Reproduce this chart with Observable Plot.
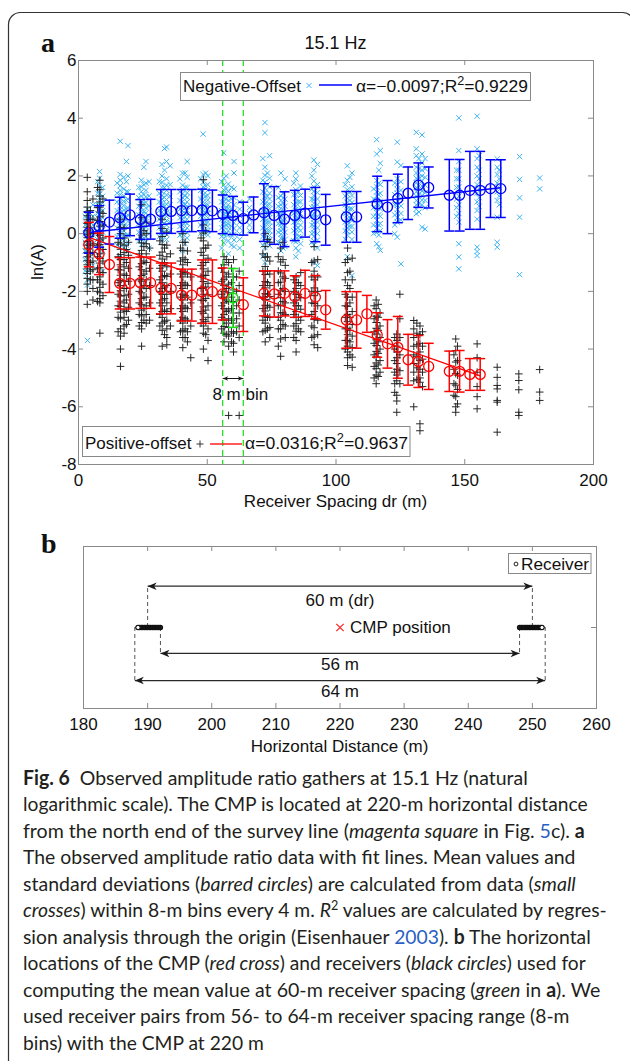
<!DOCTYPE html>
<html>
<head>
<meta charset="utf-8">
<script src="https://cdn.jsdelivr.net/npm/d3@7"></script>
<script src="https://cdn.jsdelivr.net/npm/@observablehq/plot@0.6"></script>
<style>
html, body { margin: 0; padding: 0; background: #fff; }
#root { position: relative; width: 630px; height: 1061px; overflow: hidden; background: #fff; }
#root > svg { position: absolute; left: 0; }
</style>
</head>
<body>
<div id="root"></div>
<script>
// ================= DATA =================
// Panel a: 8-m bins every 4 m (bin centres, m)
const binX = [4,8,12,16,20,24,28,32,36,40,44,48,52,56,60,64,68,72,76,80,84,88,92,96,100,104,108,112,116,120,124,128,132,136,140,144,148,152,156,160,164];
// Negative-offset bin means / std (blue)
const negMean = [0.03,0.25,0.40,0.55,0.65,0.49,0.50,0.77,0.77,0.80,0.80,0.82,0.79,0.67,0.63,0.52,0.65,0.73,0.63,0.50,0.63,0.71,0.66,0.48,null,0.58,0.58,null,1.03,0.92,1.22,1.40,1.68,1.60,null,1.33,1.33,1.50,1.50,1.56,1.56];
const negStd  = [0.71,0.72,0.76,0.71,0.72,0.69,0.69,0.76,0.76,0.73,0.73,0.72,0.72,0.67,0.66,0.57,0.62,1.00,1.00,0.95,0.87,0.83,0.94,0.88,null,0.88,0.88,null,0.96,0.92,0.84,0.91,0.77,0.71,null,1.24,1.24,1.35,1.35,1.00,1.00];
// Positive-offset bin means / std (red; 60 m bin highlighted green)
const posMean = [-0.38,-0.70,-1.07,-1.72,-1.72,-1.70,-1.70,-1.90,-1.90,-2.13,-2.13,-2.01,-2.01,-2.09,-2.23,-2.46,null,-2.07,-2.09,-2.07,-2.18,-2.07,-2.20,-2.64,null,-2.99,-2.99,-2.78,-3.51,-3.82,-3.94,-4.37,-4.43,-4.60,null,-4.77,-4.77,-4.88,-4.88,null,null];
const posStd  = [0.77,0.72,0.97,0.89,0.89,0.89,0.89,0.88,0.88,0.90,0.90,1.10,1.10,0.90,1.02,0.93,null,0.78,0.80,0.78,0.72,0.80,0.75,0.67,null,0.98,0.98,0.64,0.77,0.84,1.07,0.88,0.90,0.80,null,0.70,0.72,0.55,0.55,null,null];
const highlightBin = 60;
const binWindow = [56, 64];

// Fit lines (regression through origin)
const negFitX = [4, 164];
const negFitY = [0.04, 1.59];
const posFitX = [4, 156];
const posFitY = [-0.13, -4.93];

// Raw data (small crosses): negative-offset (cyan x), grouped by receiver-spacing column
const negColX = [3.5,4.6,8.2,9.4,16.2,17.6,19.2,24.4,26.2,27.4,32.4,34.2,35.6,40.4,42.2,48.4,50.2,56.4,58.2,60.4,62.6,66.4,72.4,74.2,78.6,80.2,84.4,86.2,91.4,92.8,104.4,106.2,115.8,117.2,123.8,125.2,131.2,133.4,134.6,147.7,154.8,162.6,171.3,179.1,
  2.6,5.6,7.4,15.0,18.6,23.4,25.4,31.4,33.4,39.4,41.4,47.4,49.4,55.6,57.4,59.4,71.6,73.4,77.6,79.4,83.6,85.4,90.6,103.6,105.4,114.6,116.6,122.8,132.2,146.8,155.6,163.4];
const negColY = [
  [0.85,0.62,0.48,0.35,0.22,0.1,0.02,-0.08,-0.2,-0.31,-0.45,-0.58,-0.72,-0.9,-1.1,-1.35,-1.6,-1.78,-3.7],
  [0.7,0.4,0.15,-0.05,-0.25,-0.5,-0.8,-1.2],
  [2.15,1.92,1.68,1.5,1.38,1.25,1.12,1.0,0.88,0.78,0.66,0.55,0.43,0.3,0.18,0.05,-0.1,-0.28,-0.5,-0.75],
  [1.6,1.3,1.05,0.8,0.55,0.3,0.05,-0.25,-0.6,-1.3],
  [3.2,2.05,1.85,1.66,1.5,1.36,1.22,1.08,0.95,0.84,0.72,0.6,0.5,0.38,0.26,0.14,0.02,-0.12,-0.28,-0.48,-0.8],
  [1.95,1.55,1.3,1.12,0.98,0.82,0.68,0.55,0.4,0.25,0.1,-0.06,-0.25,-0.5],
  [3.05,2.0,1.45,1.2,0.9,0.65,0.42,0.2,-0.05,-0.3,-0.6],
  [1.85,1.62,1.45,1.3,1.16,1.02,0.9,0.78,0.66,0.55,0.44,0.32,0.2,0.08,-0.05,-0.2,-0.38],
  [2.5,1.75,1.5,1.28,1.08,0.9,0.72,0.56,0.4,0.24,0.08,-0.1,-0.3],
  [1.8,1.3,0.95,0.6,0.3,0.0,-0.5],
  [2.4,2.0,1.78,1.6,1.45,1.32,1.2,1.08,0.97,0.86,0.75,0.64,0.53,0.42,0.3,0.18,0.05,-0.1,-0.25],
  [3.0,2.5,1.9,1.68,1.5,1.34,1.18,1.02,0.88,0.74,0.6,0.45,0.3,0.14,-0.02,-0.2],
  [2.35,1.7,1.3,1.0,0.7,0.4,0.1],
  [2.1,1.68,1.52,1.38,1.25,1.12,1.0,0.9,0.8,0.7,0.6,0.5,0.4,0.28,0.15,0.0,-0.18,-0.6],
  [2.5,1.95,1.6,1.42,1.26,1.1,0.95,0.8,0.65,0.5,0.35,0.2,0.03,-0.15],
  [3.45,2.05,1.78,1.62,1.48,1.35,1.22,1.1,1.0,0.9,0.8,0.7,0.6,0.5,0.4,0.28,0.15,0.02],
  [2.0,1.7,1.5,1.32,1.16,1.0,0.85,0.7,0.55,0.4,0.25,0.1,-0.05],
  [2.8,1.92,1.68,1.52,1.38,1.24,1.1,0.98,0.87,0.76,0.66,0.56,0.46,0.36,0.25,0.13,0.0,-0.16,-0.32],
  [1.72,1.46,1.3,1.15,1.0,0.88,0.77,0.66,0.55,0.44,0.33,0.22,0.1,-0.05,-0.25,-0.7],
  [2.5,2.1,1.55,1.25,1.0,0.78,0.58,0.38,0.18,-0.02,-0.22,-0.45],
  [1.1,0.85,0.62,0.4,0.2,0.0,-0.2,-0.5],
  [1.2,0.9,0.7,0.5,0.3,0.1],
  [3.85,3.5,2.3,2.02,1.78,1.58,1.42,1.28,1.15,1.03,0.92,0.82,0.72,0.62,0.52,0.42,0.32,0.22,0.12,0.0,-0.14,-0.3,-0.48,-0.72,-1.0],
  [2.7,1.92,1.62,1.4,1.2,1.02,0.86,0.7,0.55,0.4,0.25,0.1,-0.06,-0.22,-0.42],
  [2.1,1.3,1.15,1.0,0.88,0.77,0.66,0.55,0.44,0.33,0.22,0.1,-0.02,-0.16,-0.32,-0.6],
  [1.9,1.2,0.95,0.72,0.5,0.28,0.05,-0.2,-0.45],
  [2.1,1.9,1.52,1.36,1.22,1.08,0.95,0.84,0.73,0.62,0.51,0.4,0.28,0.16,0.04,-0.1,-0.28,-0.5,-0.8],
  [1.65,1.32,1.1,0.9,0.7,0.5,0.3,0.1,-0.12,-0.35],
  [2.55,2.2,1.82,1.62,1.46,1.32,1.18,1.05,0.93,0.82,0.71,0.6,0.49,0.38,0.27,0.16,0.04,-0.1,-0.25,-0.4,-1.0],
  [2.4,1.7,1.42,1.2,1.0,0.8,0.6,0.4,0.2,0.0,-0.22,-0.5,-1.1],
  [2.35,1.85,1.52,1.36,1.22,1.09,0.97,0.86,0.75,0.64,0.53,0.42,0.31,0.2,0.08,-0.05,-0.8],
  [2.1,1.62,1.32,1.08,0.86,0.65,0.45,0.25,0.05,-0.2,-1.45],
  [3.26,2.76,1.84,1.62,1.45,1.3,1.16,1.02,0.88,0.74,0.6,0.46,0.32,0.18,0.04,-0.35],
  [2.88,2.44,1.7,1.4,1.12,0.86,0.6,0.35,0.1,-0.58],
  [3.17,2.48,1.9,1.7,1.54,1.4,1.26,1.12,0.98,0.84,0.7,0.55,0.4,-0.12],
  [2.36,1.8,1.5,1.22,0.96,0.7,0.48,-1.05],
  [3.51,2.94,2.7,2.3,2.1,1.92,1.76,1.6,1.45,1.3,1.15,1.0,0.85,0.69],
  [3.42,2.76,2.45,2.2,2.0,1.82,1.65,1.48,1.32,1.16,1.0,0.22],
  [2.6,2.25,1.95,1.68,1.42,1.15,0.9,0.16],
  [4.01,2.88,2.5,2.2,1.9,1.62,1.3,1.0,0.7,0.4,-0.35,-0.81,-1.22],
  [4.07,2.94,2.6,2.3,2.0,1.7,1.4,1.1,0.8,0.5,-0.47,-0.62,-0.76],
  [2.59,2.3,2.05,1.75,1.45,1.15,0.57,-0.3,-0.47],
  [2.67,1.88,1.24,0.57,-1.42],
  [1.93,1.55],
  [0.6,0.3,0.0,-0.3,-0.6,-0.9,-1.3],
  [1.0,0.6,0.3,0.0,-0.35,-0.7,-1.1],
  [1.8,1.4,1.0,0.7,0.4,0.1,-0.2,-0.5],
  [1.75,1.4,1.1,0.8,0.5,0.2,-0.1,-0.4],
  [2.5,1.8,1.45,1.15,0.85,0.55,0.25,-0.05,-0.4],
  [1.6,1.25,0.95,0.65,0.35,0.05,-0.25],
  [2.3,1.7,1.35,1.05,0.75,0.45,0.15,-0.15],
  [1.8,1.4,1.1,0.8,0.5,0.2,-0.1],
  [2.95,2.2,1.6,1.25,0.95,0.65,0.35,0.05],
  [1.9,1.45,1.15,0.85,0.55,0.25,-0.05],
  [2.1,1.6,1.3,1.0,0.7,0.4,0.1,-0.35],
  [1.9,1.5,1.2,0.9,0.6,0.3,0.0],
  [2.1,1.65,1.3,1.0,0.7,0.4,0.1],
  [1.8,1.4,1.1,0.8,0.5,0.2,-0.1,-0.5],
  [2.0,1.55,1.2,0.9,0.6,0.3,0.0],
  [1.6,1.2,0.85,0.55,0.25,-0.05,-0.4],
  [2.6,1.85,1.45,1.1,0.8,0.5,0.2,-0.1,-0.4,-0.8],
  [2.1,1.7,1.3,1.0,0.7,0.4,0.1,-0.2],
  [1.6,1.25,0.95,0.65,0.35,0.05,-0.3],
  [1.4,1.05,0.75,0.45,0.15,-0.15,-0.5],
  [1.75,1.35,1.0,0.7,0.4,0.1,-0.25],
  [1.45,1.1,0.8,0.5,0.2,-0.1,-0.6],
  [2.0,1.55,1.2,0.9,0.6,0.3,0.0,-0.3],
  [1.7,1.3,1.0,0.7,0.4,0.1,-0.2],
  [1.95,1.45,1.15,0.85,0.55,0.25],
  [1.55,1.2,0.9,0.6,0.3,0.0],
  [2.2,1.75,1.35,1.0,0.65,0.3,-0.05,-0.45],
  [1.75,1.35,1.0,0.65,0.3,0.0],
  [2.6,2.25,1.95,1.65,1.35,1.05,0.75],
  [2.2,1.9,1.6,1.2,0.9,0.6],
  [2.7,2.2,1.9,1.55,1.25,0.95],
  [2.2,1.9,1.6,1.3,1.0]
];
// Raw data: positive-offset (black +)
const posColX = [3.4,4.6,8.3,9.5,16.3,17.7,19.4,24.5,26.3,27.6,32.5,34.3,35.7,40.5,42.3,43.6,48.5,50.3,56.5,58.3,60.2,62.4,72.5,74.3,78.5,80.3,84.5,86.3,91.5,92.9,104.5,106.3,115.6,117.1,123.6,124.8,130.2,132.6,146.5,154.8,162.6,171.0,179.1,
  5.6,7.4,15.4,18.6,23.6,25.4,31.6,33.4,39.6,41.4,47.6,49.4,55.6,57.4,59.4,61.4,71.6,73.4,77.6,79.4,83.6,85.4,90.6,103.6,105.4,114.8,116.4,122.8,131.4,133.6,145.8,147.2];
const posColY = [
  [1.95,1.45,1.15,0.92,0.76,0.62,0.48,0.35,0.22,0.1,-0.02,-0.14,-0.27,-0.4,-0.53,-0.66,-0.8,-0.94,-1.08,-1.22,-1.38,-1.55,-1.75,-2.0,-2.45],
  [0.8,0.5,0.2,-0.1,-0.4,-0.7,-1.0,-1.3,-1.6],
  [1.85,1.52,1.3,1.1,0.92,0.75,0.58,0.42,0.26,0.1,-0.06,-0.22,-0.38,-0.54,-0.7,-0.86,-1.02,-1.18,-1.34,-1.5,-1.68,-1.86,-2.05,-2.25,-2.4,-3.45],
  [1.2,0.7,0.3,-0.15,-0.55,-0.95,-1.35,-1.75,-2.15],
  [0.5,0.22,0.0,-0.18,-0.36,-0.54,-0.72,-0.9,-1.08,-1.26,-1.44,-1.62,-1.8,-1.98,-2.16,-2.34,-2.52,-2.72,-2.95,-3.3,-3.55,-4.0,-4.6],
  [0.2,-0.15,-0.4,-0.65,-0.9,-1.15,-1.4,-1.65,-1.9,-2.15,-2.4,-2.65,-2.9,-3.2,-3.45],
  [-0.3,-0.75,-1.2,-1.65,-2.1,-2.55,-3.0],
  [1.0,0.55,0.25,-0.05,-0.32,-0.58,-0.82,-1.04,-1.25,-1.45,-1.65,-1.85,-2.05,-2.25,-2.45,-2.65,-2.85,-3.08,-3.3,-3.9],
  [0.4,0.0,-0.35,-0.7,-1.0,-1.3,-1.6,-1.9,-2.2,-2.5,-2.8,-3.1],
  [-0.5,-1.2,-1.8,-2.4,-3.0],
  [0.5,0.18,-0.1,-0.38,-0.64,-0.88,-1.1,-1.3,-1.5,-1.7,-1.9,-2.1,-2.3,-2.5,-2.7,-2.9,-3.1,-3.35,-3.9],
  [0.05,-0.4,-0.8,-1.15,-1.48,-1.8,-2.1,-2.4,-2.7,-3.0,-3.3,-3.6,-3.85],
  [-0.7,-1.4,-2.0,-2.6,-3.2],
  [0.0,-0.3,-0.58,-0.84,-1.08,-1.3,-1.5,-1.7,-1.9,-2.1,-2.3,-2.5,-2.7,-2.9,-3.1,-3.35,-3.6,-3.95],
  [-0.6,-1.0,-1.4,-1.8,-2.2,-2.6,-3.0,-3.4,-3.75],
  [-1.5,-2.4,-3.2,-4.3],
  [1.87,0.3,0.02,-0.25,-0.5,-0.75,-1.0,-1.22,-1.44,-1.66,-1.88,-2.1,-2.32,-2.54,-2.76,-2.98,-3.2,-3.45,-4.0],
  [-0.4,-0.85,-1.3,-1.72,-2.12,-2.5,-2.9,-3.3,-3.7,-4.4],
  [-0.8,-1.08,-1.34,-1.58,-1.8,-2.0,-2.2,-2.4,-2.6,-2.8,-3.0,-3.22,-3.45,-3.75],
  [-1.0,-1.4,-1.75,-2.05,-2.35,-2.65,-2.95,-3.25,-3.55,-3.9,-6.3],
  [-0.9,-1.5,-1.95,-2.35,-2.75,-3.1,-3.45,-3.8,-4.1],
  [-1.3,-1.8,-2.3,-2.75,-3.2,-3.6,-6.3],
  [0.0,-0.45,-0.82,-1.14,-1.42,-1.66,-1.88,-2.08,-2.28,-2.48,-2.68,-2.88,-3.1,-3.35,-3.75],
  [-0.3,-0.95,-1.4,-1.8,-2.18,-2.55,-2.9,-3.25,-3.6],
  [-0.5,-0.98,-1.36,-1.68,-1.96,-2.22,-2.48,-2.74,-3.0,-3.3,-3.65,-4.25],
  [-1.1,-1.55,-2.0,-2.4,-2.8,-3.2,-3.6],
  [-1.5,-1.7,-1.9,-2.1,-2.3,-2.5,-2.7,-2.9,-3.12,-3.38,-3.7,-4.1],
  [-1.35,-1.8,-2.22,-2.62,-3.0,-3.4],
  [-0.45,-0.95,-1.3,-1.6,-1.88,-2.15,-2.42,-2.7,-2.98,-3.26,-3.55,-3.85],
  [-0.9,-1.5,-2.0,-2.5,-3.0,-3.5,-3.95],
  [-0.5,-0.9,-1.35,-1.8,-2.2,-2.52,-2.8,-3.05,-3.28,-3.5,-3.7,-3.9,-4.1,-4.3,-4.57],
  [-0.85,-1.6,-2.2,-2.7,-3.15,-3.55,-3.95,-4.28,-4.63],
  [-2.3,-2.6,-2.86,-3.08,-3.28,-3.48,-3.68,-3.88,-4.08,-4.28,-4.48,-4.68,-4.9,-5.2],
  [-2.75,-3.2,-3.6,-4.0,-4.4,-4.8],
  [-3.48,-3.7,-3.9,-4.1,-4.3,-4.5,-4.7,-4.9,-5.1,-5.6,-5.8,-6.19],
  [-2.1,-2.95,-3.6,-4.2,-4.75,-5.2],
  [-3.01,-3.3,-3.6,-3.9,-4.2,-4.5,-4.8,-5.1,-6.0],
  [-3.2,-3.5,-3.8,-4.1,-4.4,-4.7,-5.0,-5.15,-6.59,-6.83],
  [-3.65,-4.05,-4.45,-4.85,-5.25,-5.65,-6.0,-6.19],
  [-3.82,-4.3,-4.8,-5.3,-5.65,-6.07],
  [-4.63,-4.98,-5.26,-5.38,-5.78,-5.84,-6.88],
  [-4.86,-5.09,-5.41,-6.19,-6.3],
  [-4.71,-5.49,-5.78],
  [1.2,0.5,0.0,-0.35,-0.65,-0.95,-1.25,-1.6,-1.9,-2.3],
  [1.6,0.9,0.45,0.0,-0.4,-0.8,-1.2,-1.6,-2.0,-2.35],
  [-0.3,-0.8,-1.25,-1.7,-2.1,-2.5,-2.9,-3.4],
  [-0.55,-1.0,-1.45,-1.9,-2.3,-2.7,-3.15],
  [-0.2,-0.7,-1.15,-1.6,-2.0,-2.4,-2.8,-3.2],
  [0.1,-0.45,-0.95,-1.4,-1.8,-2.2,-2.6,-3.0],
  [-0.25,-0.75,-1.2,-1.6,-2.0,-2.4,-2.8,-3.2],
  [-0.5,-1.0,-1.45,-1.85,-2.25,-2.65,-3.05,-3.5],
  [-0.5,-0.95,-1.4,-1.8,-2.2,-2.6,-3.0,-3.4],
  [-0.3,-0.9,-1.35,-1.75,-2.15,-2.55,-2.95,-3.3,-3.6],
  [-0.15,-0.65,-1.1,-1.5,-1.9,-2.3,-2.7,-3.1],
  [0.1,-0.5,-1.0,-1.45,-1.85,-2.25,-2.65,-3.05,-3.5],
  [-1.2,-1.65,-2.1,-2.5,-2.9,-3.3],
  [-0.9,-1.5,-1.9,-2.3,-2.7,-3.1,-3.5],
  [-1.2,-1.7,-2.2,-2.6,-3.0,-3.4,-3.75],
  [-1.5,-2.0,-2.5,-2.95,-3.4],
  [-0.7,-1.3,-1.8,-2.2,-2.6,-3.0,-3.4],
  [-0.2,-0.8,-1.3,-1.7,-2.1,-2.5,-2.9,-3.3],
  [-0.8,-1.3,-1.7,-2.1,-2.5,-2.9,-3.3,-3.9],
  [-0.3,-0.9,-1.5,-1.9,-2.35,-2.75,-3.15],
  [-1.6,-2.0,-2.4,-2.8,-3.2,-3.6],
  [-1.7,-2.1,-2.5,-2.9,-3.3],
  [-1.0,-1.5,-2.0,-2.4,-2.8,-3.2,-3.6],
  [-1.0,-1.6,-2.1,-2.5,-2.9,-3.3,-3.7,-4.0],
  [-1.3,-1.9,-2.4,-2.9,-3.35,-3.75,-4.2],
  [-2.5,-2.95,-3.4,-3.8,-4.2,-4.6,-5.0],
  [-2.45,-2.9,-3.35,-3.75,-4.15,-4.55,-4.95],
  [-3.6,-4.0,-4.4,-4.8,-5.2,-5.5],
  [-3.1,-3.45,-3.85,-4.25,-4.65,-5.05],
  [-3.4,-3.9,-4.35,-4.8,-5.3],
  [-4.2,-4.7,-5.2,-5.6],
  [-3.9,-4.4,-4.9,-5.4,-5.9]
];
// Axis ticks panel a
const xTicksA = [0, 50, 100, 150, 200];
const yTicksA = [-8, -6, -4, -2, 0, 2, 4, 6];
// "8 m bin" annotation
const binArrowY = -5.02;
const binLabel = "8 m bin";
const binLabelX = 52;
const binLabelY = -5.58;

// Panel b: receiver geometry (horizontal distance, m)
const receiverX = [192,191.75,191.5,191.25,191,190.75,190.5,190.25,190,189.75,189.5,189.25,189,188.75,188.5,
                   248,248.25,248.5,248.75,249,249.25,249.5,249.75,250,250.25,250.5,250.75,251,251.25,251.5];
const endReceiverX = [188.5, 251.5];
const receiverLineY = 0;
const cmpX = 220;
const spanLabel = ["60 m (dr)", "56 m", "64 m"];
const spanX1 = [190, 192, 188];
const spanX2 = [250, 248, 252];
const spanY = [0.51, -0.32, -0.655];
const spanLabelX = [220, 220, 220];
const spanLabelY = [0.335, -0.455, -0.79];
const xTicksB = [180, 190, 200, 210, 220, 230, 240, 250, 260];

// ================= STYLE =================
const FONT = "'Liberation Sans', Arial, Helvetica, sans-serif";
const GRAY = "#8a8a8a";
const BLUE = "#0000ff";
const RED = "#ff0000";
const GREEN = "#16e016";
const CYAN = "#3db4f2";
const INK = "#161616";

const capSym = {draw(ctx, size) { const r = Math.sqrt(size / Math.PI); ctx.moveTo(-r, 0); ctx.lineTo(r, 0); }};
const headR = {draw(ctx, size) { const r = Math.sqrt(size / Math.PI); ctx.moveTo(0, 0); ctx.lineTo(-r, -r * 0.42); ctx.lineTo(-r * 0.72, 0); ctx.lineTo(-r, r * 0.42); ctx.closePath(); }};
const headL = {draw(ctx, size) { const r = Math.sqrt(size / Math.PI); ctx.moveTo(0, 0); ctx.lineTo(r, -r * 0.42); ctx.lineTo(r * 0.72, 0); ctx.lineTo(r, r * 0.42); ctx.closePath(); }};

// ================= PANEL A =================
const negPts = negColX.flatMap((x, i) => negColY[i].map(y => ({x, y})));
const posPts = posColX.flatMap((x, i) => posColY[i].map(y => ({x, y})));
const negBins = binX.map((x, i) => ({x, m: negMean[i], s: negStd[i]})).filter(d => d.m != null);
const posAll = binX.map((x, i) => ({x, m: posMean[i], s: posStd[i]})).filter(d => d.m != null);
const posBins = posAll.filter(d => d.x !== highlightBin);
const greenBins = posAll.filter(d => d.x === highlightBin);
const negFit = negFitX.map((x, i) => ({x, y: negFitY[i]}));
const posFit = posFitX.map((x, i) => ({x, y: posFitY[i]}));
const caps = bins => bins.flatMap(d => [{x: d.x, y: d.m - d.s}, {x: d.x, y: d.m + d.s}]);
function errMarks(bins, color) {
  return [
    Plot.ruleX(bins, {x: "x", y1: d => d.m - d.s, y2: d => d.m + d.s, stroke: color, strokeWidth: 1.5}),
    Plot.dot(caps(bins), {x: "x", y: "y", symbol: capSym, r: 5, stroke: color, strokeWidth: 1.5, fill: "none"}),
    Plot.dot(bins, {x: "x", y: "m", r: 5, stroke: color, strokeWidth: 1.3, fill: "none"})
  ];
}
const A = {w: 630, h: 520, ml: 78, mr: 37, mt: 60, mb: 56};
const aPW = A.w - A.ml - A.mr, aPH = A.h - A.mt - A.mb;
const binArrow = [{x1: binWindow[0], x2: binWindow[1], y: binArrowY}];

const figA = Plot.plot({
  width: A.w, height: A.h, marginLeft: A.ml, marginRight: A.mr, marginTop: A.mt, marginBottom: A.mb,
  x: {domain: [0, 200]},
  y: {domain: [-8, 6]},
  style: {background: "none", fontFamily: FONT, fontSize: "17px", color: "#111", overflow: "visible"},
  marks: [
    Plot.dot(negPts, {x: "x", y: "y", symbol: "times", r: 2.5, stroke: CYAN, strokeWidth: 1}),
    Plot.dot(posPts, {x: "x", y: "y", symbol: "plus", r: 2.6, stroke: "#1c1c1c", strokeWidth: 0.95}),
    Plot.ruleX(binWindow, {x: d => d, stroke: GREEN, strokeWidth: 1.2, strokeDasharray: "6,4"}),
    Plot.line(negFit, {x: "x", y: "y", stroke: BLUE, strokeWidth: 1.3}),
    Plot.line(posFit, {x: "x", y: "y", stroke: RED, strokeWidth: 1.3}),
    ...errMarks(negBins, BLUE),
    ...errMarks(posBins, RED),
    ...errMarks(greenBins, GREEN),
    Plot.link(binArrow, {x1: "x1", x2: "x2", y1: "y", y2: "y", stroke: INK, strokeWidth: 1}),
    Plot.dot(binArrow, {x: "x1", y: "y", symbol: headL, r: 5.5, fill: INK, stroke: "none"}),
    Plot.dot(binArrow, {x: "x2", y: "y", symbol: headR, r: 5.5, fill: INK, stroke: "none"}),
    Plot.text([binLabel], {x: () => binLabelX, y: () => binLabelY, text: d => d, textAnchor: "start", fontSize: 17, fill: "#111"}),
    Plot.frame({stroke: GRAY}),
    Plot.tickX(xTicksA.slice(1, -1), {x: d => d, stroke: GRAY, insetBottom: aPH - 5}),
    Plot.tickX(xTicksA.slice(1, -1), {x: d => d, stroke: GRAY, insetTop: aPH - 5}),
    Plot.tickY(yTicksA.slice(1, -1), {y: d => d, stroke: GRAY, insetRight: aPW - 5}),
    Plot.tickY(yTicksA.slice(1, -1), {y: d => d, stroke: GRAY, insetLeft: aPW - 5}),
    Plot.axisX({ticks: xTicksA, tickSize: 0, tickPadding: 9, tickFormat: d => String(d), label: null}),
    Plot.axisY({ticks: yTicksA, tickSize: 0, tickPadding: 2, tickFormat: d => String(d), label: null})
  ]
});

// ================= PANEL B =================
const B = {top: 500, w: 630, h: 270, ml: 83, mr: 34, mt: 46, mb: 62};
const bPW = B.w - B.ml - B.mr, bPH = B.h - B.mt - B.mb;
const spans = spanLabel.map((label, i) => ({label, x1: spanX1[i], x2: spanX2[i], y: spanY[i], lx: spanLabelX[i], ly: spanLabelY[i]}));
const drops = spans.flatMap(s => [{x: s.x1, y1: receiverLineY, y2: s.y}, {x: s.x2, y1: receiverLineY, y2: s.y}]);
const receivers = receiverX.map(x => ({x, y: receiverLineY}));
const endReceivers = endReceiverX.map(x => ({x, y: receiverLineY}));
const cmp = [{x: cmpX, y: receiverLineY, label: "CMP position"}];

const figB = Plot.plot({
  width: B.w, height: B.h, marginLeft: B.ml, marginRight: B.mr, marginTop: B.mt, marginBottom: B.mb,
  x: {domain: [180, 260]},
  y: {domain: [-1, 1], axis: null},
  style: {background: "none", fontFamily: FONT, fontSize: "17px", color: "#111", overflow: "visible"},
  marks: [
    Plot.frame({stroke: GRAY}),
    Plot.tickX(xTicksB.slice(1, -1), {x: d => d, stroke: GRAY, insetBottom: bPH - 5}),
    Plot.tickX(xTicksB.slice(1, -1), {x: d => d, stroke: GRAY, insetTop: bPH - 5}),
    Plot.tickY([receiverLineY], {y: d => d, stroke: GRAY, insetLeft: bPW - 5}),
    Plot.axisX({ticks: xTicksB, tickSize: 0, tickPadding: 9, tickFormat: d => String(d), label: null}),
    Plot.ruleX(drops, {x: "x", y1: "y1", y2: "y2", stroke: "#555", strokeWidth: 1, strokeDasharray: "4,3"}),
    Plot.link(spans, {x1: "x1", x2: "x2", y1: "y", y2: "y", stroke: "#2a2a2a", strokeWidth: 1.3}),
    Plot.dot(spans, {x: "x1", y: "y", symbol: headL, r: 9, fill: "#1a1a1a", stroke: "none"}),
    Plot.dot(spans, {x: "x2", y: "y", symbol: headR, r: 9, fill: "#1a1a1a", stroke: "none"}),
    Plot.text(spans, {x: "lx", y: "ly", text: "label", fontSize: 17, fill: "#111"}),
    Plot.dot(receivers, {x: "x", y: "y", r: 1.8, stroke: "#111", strokeWidth: 1.8, fill: "none"}),
    Plot.dot(endReceivers, {x: "x", y: "y", r: 2.1, stroke: "#111", strokeWidth: 1, fill: "#fff"}),
    Plot.dot(cmp, {x: "x", y: "y", symbol: "times", r: 3.4, stroke: "#ff2020", strokeWidth: 1.2}),
    Plot.text(cmp, {x: "x", y: "y", text: "label", textAnchor: "start", dx: 10, fontSize: 17, fill: "#111"})
  ]
});

const root = document.getElementById("root");
figA.style.top = "0px";
figB.style.top = B.top + "px";
root.append(figA);
root.append(figB);

// ================= OVERLAY (labels, legends, caption) =================
const ov = d3.select(root).append("svg")
  .attr("width", 630).attr("height", 1061)
  .style("top", "0px").style("overflow", "visible")
  .style("font-family", FONT);

// outer rounded frame
ov.append("rect").attr("x", 8.5).attr("y", 12.5).attr("width", 626).attr("height", 1200)
  .attr("rx", 12).attr("fill", "none").attr("stroke", "#333").attr("stroke-width", 1.2);

function label(x, y, s, o = {}) {
  return ov.append("text").attr("x", x).attr("y", y).text(s)
    .attr("font-size", o.size || 17).attr("fill", o.fill || "#111")
    .attr("text-anchor", o.anchor || "start")
    .attr("font-weight", o.weight || null)
    .attr("font-family", o.family || null);
}
function fit(sel, x0, x1, y) {
  const w = sel.node().getComputedTextLength();
  sel.attr("x", 0).attr("y", 0).attr("transform", `translate(${x0},${y}) scale(${(x1 - x0) / w},1)`);
}

// panel letters and titles
label(41, 52, "a", {size: 28, weight: "bold", family: "'Liberation Serif', 'Times New Roman', serif"});
label(41, 553, "b", {size: 28, weight: "bold", family: "'Liberation Serif', 'Times New Roman', serif"});
label(335.5, 49, "15.1 Hz", {size: 18, anchor: "middle"});
label(335.5, 507, "Receiver Spacing dr (m)", {anchor: "middle"});
label(339.5, 752, "Horizontal Distance (m)", {anchor: "middle"});
label(0, 0, "ln(A)", {anchor: "middle"}).attr("transform", "translate(43,262) rotate(-90)");

// legend 1 (negative offset)
ov.append("rect").attr("x", 180.5).attr("y", 72.5).attr("width", 350).attr("height", 28)
  .attr("fill", "#fff").attr("stroke", "#888");
fit(label(0, 0, "Negative-Offset", {size: 16.5}), 183, 301, 91.5);
ov.append("path").attr("d", "M306.5,88l5,-5M306.5,83l5,5").attr("stroke", CYAN).attr("stroke-width", 1);
ov.append("line").attr("x1", 319).attr("x2", 352).attr("y1", 85).attr("y2", 85).attr("stroke", BLUE).attr("stroke-width", 1.3);
{
  const t = ov.append("text").attr("font-size", 16.5).attr("fill", "#111");
  t.append("tspan").text("α=−0.0097;R");
  t.append("tspan").attr("dy", -7).attr("font-size", 12).text("2");
  t.append("tspan").attr("dy", 7).text("=0.9229");
  fit(t, 356, 528, 91.5);
}
// legend 2 (positive offset)
ov.append("rect").attr("x", 82.5).attr("y", 426.5).attr("width", 327.5).attr("height", 30)
  .attr("fill", "none").attr("stroke", "#888");
fit(label(0, 0, "Positive-offset", {size: 16.5}), 85, 191.5, 449);
ov.append("path").attr("d", "M196.5,444h7M200,440.5v7").attr("stroke", "#333").attr("stroke-width", 1);
ov.append("line").attr("x1", 210).attr("x2", 242).attr("y1", 444).attr("y2", 444).attr("stroke", RED).attr("stroke-width", 1.3);
{
  const t = ov.append("text").attr("font-size", 16.5).attr("fill", "#111");
  t.append("tspan").text("α=0.0316;R");
  t.append("tspan").attr("dy", -7).attr("font-size", 12).text("2");
  t.append("tspan").attr("dy", 7).text("=0.9637");
  fit(t, 245, 408, 449);
}
// receiver legend (panel b)
ov.append("rect").attr("x", 508.5).attr("y", 553.5).attr("width", 82.5).attr("height", 20)
  .attr("fill", "#fff").attr("stroke", "#888");
ov.append("circle").attr("cx", 516).attr("cy", 564).attr("r", 1.9).attr("fill", "none").attr("stroke", "#222").attr("stroke-width", 1);
fit(label(0, 0, "Receiver"), 521, 589, 570);

// caption
const captionLines = [
  [["Fig. 6", "b"], ["  Observed amplitude ratio gathers at 15.1 Hz (natural", ""]],
  [["logarithmic scale). The CMP is located at 220-m horizontal distance", ""]],
  [["from the north end of the survey line (", ""], ["magenta square", "i"], [" in Fig. ", ""], ["5", "l"], ["c). ", ""], ["a", "b"]],
  [["The observed amplitude ratio data with fit lines. Mean values and", ""]],
  [["standard deviations (", ""], ["barred circles", "i"], [") are calculated from data (", ""], ["small", "i"]],
  [["crosses", "i"], [") within 8-m bins every 4 m. ", ""], ["R", "i"], ["2", "sup"], [" values are calculated by regres-", ""]],
  [["sion analysis through the origin (Eisenhauer ", ""], ["2003", "l"], ["). ", ""], ["b", "b"], [" The horizontal", ""]],
  [["locations of the CMP (", ""], ["red cross", "i"], [") and receivers (", ""], ["black circles", "i"], [") used for", ""]],
  [["computing the mean value at 60-m receiver spacing (", ""], ["green", "i"], [" in ", ""], ["a", "b"], ["). We", ""]],
  [["used receiver pairs from 56- to 64-m receiver spacing range (8-m", ""]],
  [["bins) with the CMP at 220 m", ""]]
];
const captionStart = 23;
const captionEnd = [528, 588, 585, 576, 576, 607, 591, 586, 601, 570, 264];
const captionBaseline0 = 785, captionLeading = 26.45;
captionLines.forEach((segs, i) => {
  const t = ov.append("text").attr("font-family", "Lato, 'Open Sans', sans-serif").attr("font-size", 20)
    .attr("fill", "#231f20").style("white-space", "pre");
  let lift = 0;
  segs.forEach(([s, k]) => {
    const sp = t.append("tspan").text(s);
    if (k === "b") sp.attr("font-weight", "bold");
    if (k === "i") sp.attr("font-style", "italic");
    if (k === "l") sp.attr("fill", "#2b5fc4");
    if (k === "sup") { sp.attr("dy", -7).attr("font-size", 13); lift = 7; }
    else if (lift) { sp.attr("dy", lift); lift = 0; }
  });
  fit(t, captionStart, captionEnd[i], captionBaseline0 + i * captionLeading);
});
</script>
</body>
</html>
